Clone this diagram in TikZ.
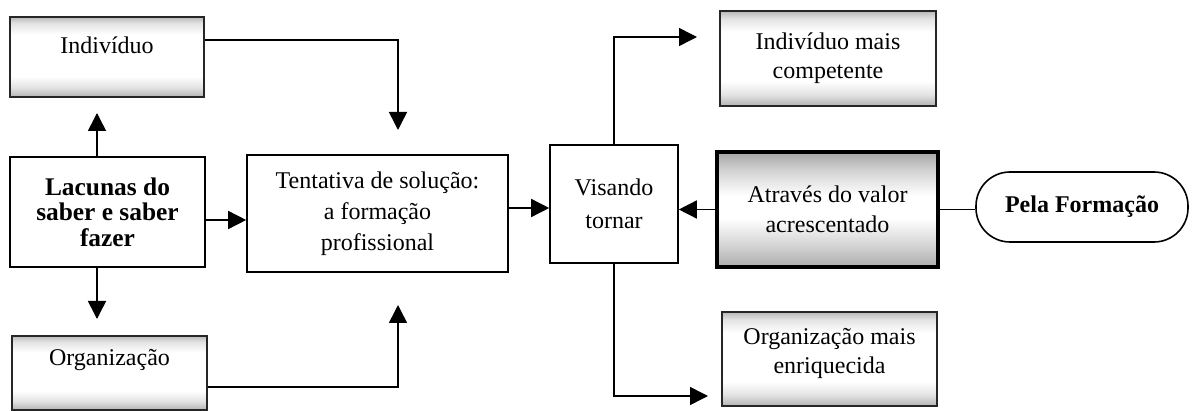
\documentclass[tikz,border=0pt]{standalone}
\usepackage{fontspec}
\setmainfont{Liberation Serif}
\usetikzlibrary{arrows.meta}
\colorlet{shTop}{gray!55}
\colorlet{shBot}{gray!60}
\colorlet{shLight}{gray!22}
\colorlet{shDarkTop}{gray!70}
\colorlet{shDarkBot}{gray!65}
\colorlet{shMid}{gray!35}
\pgfdeclareverticalshading{gradbox}{100bp}{color(0bp)=(shBot); color(25bp)=(shBot); color(31bp)=(shLight); color(38bp)=(white); color(64bp)=(white); color(71bp)=(shLight); color(75bp)=(shTop); color(100bp)=(shTop)}
\pgfdeclareverticalshading{darkbox}{100bp}{color(0bp)=(shDarkBot); color(25bp)=(shDarkBot); color(34bp)=(shMid); color(46bp)=(white); color(56bp)=(white); color(67bp)=(shMid); color(75bp)=(shDarkTop); color(100bp)=(shDarkTop)}
\begin{document}
\begin{tikzpicture}[x=0.5pt,y=-0.5pt,
  box/.style={draw, line width=0.8pt, align=center, inner sep=0pt,
    font=\fontsize{12}{14.5}\selectfont},
  gbox/.style={box, draw=black!85, shade, shading=gradbox},
  dbox/.style={box, line width=1.6pt, shade, shading=darkbox},
  arr/.style={line width=0.75pt, -{Triangle[length=9pt,width=9pt]}},
  con/.style={line width=0.75pt}]
\useasboundingbox (0,0) rectangle (1194,411);

% nodes
\node[gbox, minimum width=97pt, minimum height=40pt, text depth=11.5pt] (ind) at (107,57) {Indivíduo};
\node[box, minimum width=97.5pt, minimum height=55pt, font=\bfseries\fontsize{12.7}{12.8}\selectfont] (lac) at (107.5,212) {Lacunas do\\saber e saber\\fazer};
\node[gbox, minimum width=97.5pt, minimum height=37pt, text depth=15.5pt] (org) at (109.5,373) {Organização};
\node[box, minimum width=130.5pt, minimum height=58.5pt, font=\fontsize{12}{15.5}\selectfont] (ten) at (377.5,213.5) {Tentativa de solução:\\a formação\\profissional};
\node[box, minimum width=64pt, minimum height=59pt, font=\fontsize{12}{16.5}\selectfont] (vis) at (614,204) {Visando\\tornar};
\node[dbox, minimum width=110.5pt, minimum height=57.5pt, font=\fontsize{12}{15}\selectfont] (atr) at (827.5,209.5) {Através do valor\\acrescentado};
\node[box, rounded corners=17pt, minimum width=106pt, minimum height=35pt, font=\bfseries\fontsize{12}{14}\selectfont] (pela) at (1082,207) {Pela Formação};
\node[gbox, minimum width=108pt, minimum height=47.5pt] (im) at (828,58.5) {Indivíduo mais\\competente};
\node[gbox, minimum width=107.5pt, minimum height=47pt, text depth=8pt] (om) at (829.5,359) {Organização mais\\enriquecida};

% free arrow ends
\coordinate (t1) at (398,130);
\coordinate (t2) at (398,305);
\coordinate (t3) at (97,113);
\coordinate (t4) at (97,319);
\coordinate (t5) at (697,37);
\coordinate (t6) at (708,396);
\coordinate (a1) at ([yshift=8.5pt]ind.east);
\coordinate (a2) at ([yshift=-7pt]org.east);
\coordinate (a3) at ([xshift=-5.25pt]lac.north);
\coordinate (a4) at ([xshift=-5.25pt]lac.south);
\coordinate (a5) at ([yshift=-4pt]lac.east);
\coordinate (a6) at ([yshift=2.75pt]ten.east);

% connectors
\draw[arr] (a1) -| (t1);
\draw[arr] (a2) -| (t2);
\draw[arr] (a3) -- (t3);
\draw[arr] (a4) -- (t4);
\draw[arr] (a5) -- (a5 -| ten.west);
\draw[arr] (a6) -- (a6 -| vis.west);
\draw[arr] (atr.west) -- (atr.west -| vis.east);
\draw[con] (atr.east) -- (atr.east -| pela.west);
\draw[arr] (vis.north) |- (t5);
\draw[arr] (vis.south) |- (t6);
\end{tikzpicture}
\end{document}
